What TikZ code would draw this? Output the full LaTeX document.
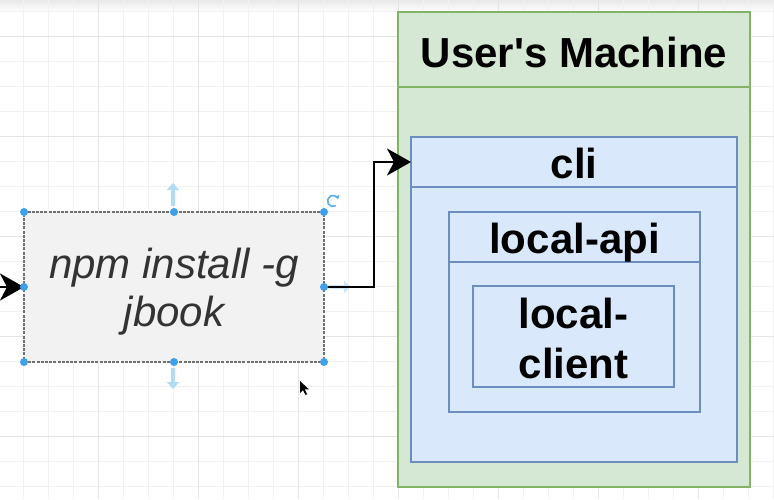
\documentclass[tikz,border=0pt]{standalone}
\usepackage{fontspec}
\setmainfont{Liberation Sans}[Ligatures=TeXOff]
\usetikzlibrary{arrows.meta,calc}
\definecolor{gfill}{HTML}{D5E8D4}
\definecolor{gline}{HTML}{82B366}
\definecolor{bfill}{HTML}{DAE8FC}
\definecolor{bline}{HTML}{6C8EBF}
\definecolor{npmfill}{HTML}{F2F2F2}
\definecolor{npmline}{HTML}{707070}
\definecolor{handle}{HTML}{3FA0EA}
\definecolor{hint}{HTML}{B4DBF6}
\definecolor{gridminor}{HTML}{F1F1F1}
\definecolor{gridmajor}{HTML}{E5E5E5}
\definecolor{txtgray}{HTML}{333333}
\begin{document}
\begin{tikzpicture}[x=1pt,y=-1pt,
  box/.style={rectangle, draw, line width=2pt, inner sep=0pt, outer sep=0pt},
  greenbox/.style={box, draw=gline, fill=gfill},
  bluebox/.style={box, draw=bline, fill=bfill},
  npmbox/.style={box, draw=npmline, fill=npmfill, dash pattern=on 3pt off 1.2pt},
  boldtxt/.style={font=\fontsize{42}{50}\selectfont\bfseries, anchor=base, inner sep=0pt, text=black},
  itxt/.style={font=\fontsize{42}{49}\selectfont\itshape, anchor=base, inner sep=0pt, text=txtgray},
  conn/.style={line width=2.6pt, draw=black, -{Stealth[length=24pt 0 0,width=27pt 0 0,inset=7pt 0 0]}},
  handledot/.style={circle, fill=handle, inner sep=0pt, minimum size=8pt},
  hintarrow/.style={draw=hint, line width=4pt, -{Triangle[length=7pt,width=12pt]}}
]
\useasboundingbox (0,0) rectangle (774,499);
\fill[white] (0,0) rectangle (774,499);
\shade[top color=black!9, bottom color=white] (0,0) rectangle (774,12);
% grid
\foreach \k in {0,...,30} {\draw[gridminor, line width=1pt] (23.5+25*\k,0) -- (23.5+25*\k,499);}
\foreach \k in {0,...,19} {\draw[gridminor, line width=1pt] (0,11.7+25*\k) -- (774,11.7+25*\k);}
\foreach \k in {0,...,6} {\draw[gridmajor, line width=1pt] (98.5+100*\k,0) -- (98.5+100*\k,499);}
\foreach \k in {0,...,4} {\draw[gridmajor, line width=1pt] (0,36.7+100*\k) -- (774,36.7+100*\k);}

% User's Machine
\node[greenbox, minimum width=352pt, minimum height=475pt] (um) at (574,249.5) {};
\node[greenbox, minimum width=352pt, minimum height=75pt] (umhead) at (574,49.5) {};
\node[boldtxt] (umtitle) at (574,67) {User's Machine};

% cli
\node[bluebox, minimum width=326pt, minimum height=325pt] (cli) at (574,299.5) {};
\node[bluebox, minimum width=326pt, minimum height=50pt] (clihead) at (574,162) {};
\node[boldtxt] (clititle) at (574,178) {cli};

% local-api
\node[bluebox, minimum width=251pt, minimum height=200pt] (api) at (574.5,312) {};
\node[bluebox, minimum width=251pt, minimum height=50pt] (apihead) at (574.5,237) {};
\node[boldtxt] (apititle) at (574.5,253) {local-api};

% local-client
\node[bluebox, minimum width=201pt, minimum height=101pt] (client) at (573.5,336.5) {};
\node[boldtxt] (clienta) at (573.5,328) {local-};
\node[boldtxt] (clientb) at (573.5,378) {client};

% npm box
\node[npmbox, minimum width=300pt, minimum height=150pt] (npm) at (174,287) {};
\node[itxt] (npma) at (174,278.3) {npm install -g};
\node[itxt] (npmb) at (174,326.7) {jbook};

% hint arrows
\coordinate (htopa) at (173,206);
\coordinate (htopb) at (173,183);
\coordinate (hbota) at (173,368);
\coordinate (hbotb) at (173,389);
\coordinate (hrighta) at (330,287);
\coordinate (hrightb) at (351,287);
\draw[hintarrow] (htopa) -- (htopb);
\draw[hintarrow] (hbota) -- (hbotb);
\draw[hintarrow, draw=hint!70] (hrighta) -- (hrightb);

% connectors
\coordinate (leftend) at (-2,287);
\coordinate (bend) at (374,162);
\draw[conn] (leftend) -- (npm.west);
\draw[conn] (npm.east) -| (bend) -- (clihead.west);

% selection handles
\foreach \p in {north west, north, north east, west, east, south west, south, south east}
  {\node[handledot] at (npm.\p) {};}

% rotate icon
\coordinate (rotc) at (333,201);
\draw[handle!85, line width=1.6pt, -{Triangle[length=3.5pt,width=5pt]}] ($(rotc)+(60:5.5)$) arc[start angle=60, end angle=340, radius=5.5];

% mouse cursor
\coordinate (cur) at (300,381);
\fill[black] (cur) -- ++(0,12) -- ++(3,-3) -- ++(2.4,5) -- ++(1.8,-0.8) -- ++(-2.4,-4.8) -- ++(4.2,0) -- cycle;
\end{tikzpicture}
\end{document}
